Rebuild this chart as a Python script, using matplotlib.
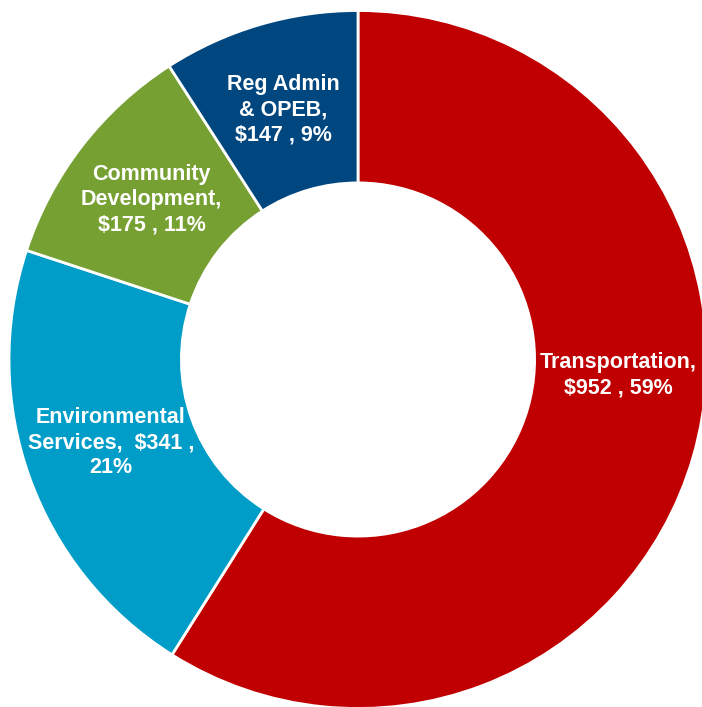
import numpy as np
import matplotlib
matplotlib.use("Agg")
import matplotlib.pyplot as plt

# budget by program area ($ millions)
categories = ["Transportation,", "Environmental\nServices, ", "Community\nDevelopment,", "Reg Admin\n& OPEB,"]
values = [952, 341, 175, 147]
percents = [59, 21, 11, 9]
colors = ["#C00000", "#009DC8", "#77A033", "#00467F"]

W, H = 702, 707
fig = plt.figure(figsize=(W / 100, H / 100), dpi=100)
ax = fig.add_axes([0, 0, 1, 1])

cx, cy = 358, H - 359.5
R = 349
ring = 0.494

wedges, _ = ax.pie(values, colors=colors, startangle=90, counterclock=False,
                   radius=R, center=(cx, cy), frame=True,
                   wedgeprops=dict(width=R * ring, edgecolor="white", linewidth=2))
ax.set_xlim(0, W)
ax.set_ylim(0, H)
ax.set_aspect("equal")
ax.axis("off")

label_r = R * (1 - ring / 2) - 2
angle_shift = [12.6, -1.2, 0.0, 0.3]  # Transportation label was nudged up in the original

for w, cat, v, p, sh in zip(wedges, categories, values, percents, angle_shift):
    mid = np.deg2rad((w.theta1 + w.theta2) / 2 + sh)
    if cat.startswith("Environmental"):
        txt = f"{cat} ${v} ,\n{p}%"
    else:
        txt = f"{cat}\n${v} , {p}%"
    ax.text(cx + label_r * np.cos(mid), cy + label_r * np.sin(mid), txt,
            ha="center", va="center", color="white", fontsize=15.5,
            fontweight="bold", family="Liberation Sans", linespacing=1.27,
            parse_math=False)

fig.savefig("out.png", dpi=100)
